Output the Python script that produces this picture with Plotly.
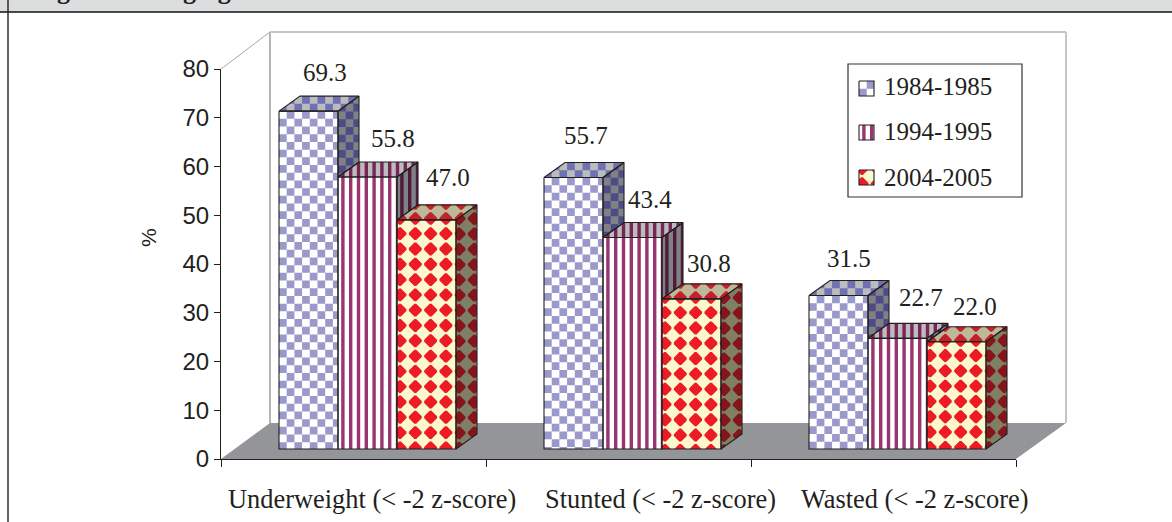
import plotly.graph_objects as go

# Chart data
categories = ["Underweight (< -2 z-score)", "Stunted (< -2 z-score)", "Wasted (< -2 z-score)"]
periods = ["1984-1985", "1994-1995", "2004-2005"]
values_1984 = [69.3, 55.7, 31.5]
values_1994 = [55.8, 43.4, 22.7]
values_2004 = [47.0, 30.8, 22.0]
y_ticks = [0, 10, 20, 30, 40, 50, 60, 70, 80]

# Page geometry: plot rectangle in pixels, and scale of each axis
W, H = 1172, 522
LEFT, RIGHT, TOP, BOTTOM = 221, 1016, 69, 459
X_SCALE = (RIGHT - LEFT) / 3
Y_SCALE = (BOTTOM - TOP) / 80
WALL_DX, WALL_DY = 49, 36
BAR_DX, BAR_DY = 21, 15
BAR_BASE = 10 / Y_SCALE
BAR_WIDTH = 59 / X_SCALE
GROUP_START = 58 / X_SCALE
INK = "#231F20"

def dx(px):
    return (px - LEFT) / X_SCALE

def dy(py):
    return (BOTTOM - py) / Y_SCALE

def pap_x(px):
    return (px - LEFT) / (RIGHT - LEFT)

def pap_y(py):
    return (BOTTOM - py) / (BOTTOM - TOP)

# Fill styles: front, top and side colours as (light, dark)
STYLES = [
    {"kind": "check", "front": ("#FFFFFF", "#9999CC"), "top": ("#BBBCBE", "#7070B4"), "side": ("#808184", "#4C4C88")},
    {"kind": "stripe", "front": ("#FFFFFF", "#993670"), "top": ("#BBBCBE", "#7A2456"), "side": ("#808184", "#4E1C3A")},
    {"kind": "diamond", "front": ("#FBF8CE", "#ED1C24"), "top": ("#BDB998", "#C4222A"), "side": ("#7F7F66", "#85151A")},
]

def clip_convex(poly, hull):
    """Sutherland-Hodgman clip of a polygon to a convex hull."""
    n = len(hull)
    area = sum(hull[i][0] * hull[(i + 1) % n][1] - hull[(i + 1) % n][0] * hull[i][1] for i in range(n))
    sign = 1 if area > 0 else -1
    for i in range(n):
        ax, ay = hull[i]
        bx, by = hull[(i + 1) % n]
        def inside(p):
            return sign * ((bx - ax) * (p[1] - ay) - (by - ay) * (p[0] - ax))
        out = []
        for k, p in enumerate(poly):
            q = poly[(k + 1) % len(poly)]
            a, b = inside(p), inside(q)
            if a >= 0:
                out.append(p)
            if a * b < 0:
                t = a / (a - b)
                out.append((p[0] + t * (q[0] - p[0]), p[1] + t * (q[1] - p[1])))
        poly = out
        if not poly:
            break
    return poly

def texture_cells(kind, x0, y0, w, h):
    """Dark cells of a screen-aligned fill covering a pixel box."""
    cells = []
    if kind == "check":
        a = 7.7
        for i in range(int(w / a) + 2):
            for j in range(int(h / a) + 2):
                if (i + j) % 2 == 1:
                    x, y = x0 + i * a, y0 + j * a
                    cells.append([(x, y), (x + a, y), (x + a, y + a), (x, y + a)])
    elif kind == "stripe":
        p, sw = 7.8, 3.4
        for i in range(int(w / p) + 2):
            x = x0 + i * p + 3.2
            cells.append([(x, y0), (x + sw, y0), (x + sw, y0 + h), (x, y0 + h)])
    else:
        p = 15.3
        r, c = p * 0.42, p * 0.06
        for i in range(-1, int(w / p) + 3):
            for j in range(-1, int(h / p) + 3):
                x, y = x0 + i * p + 3.0, y0 + j * p - 1.5
                cells.append([(x - r, y - c), (x - c, y - r), (x + c, y - r), (x + r, y - c),
                              (x + r, y + c), (x + c, y + r), (x - c, y + r), (x - r, y + c)])
    return cells

background_layers = {}
texture_layers = {}

def add_poly(store, colour, pts):
    store.setdefault(colour, []).append(pts)

def add_face(kind, colours, hull, background=True):
    """Fill a convex pixel polygon with a screen-aligned texture."""
    if background:
        add_poly(background_layers, colours[0], [(dx(x), dy(y)) for x, y in hull])
    xs = [p[0] for p in hull]
    ys = [p[1] for p in hull]
    for cell in texture_cells(kind, min(xs), min(ys), max(xs) - min(xs), max(ys) - min(ys)):
        c = clip_convex(cell, hull)
        if len(c) >= 3:
            add_poly(texture_layers, colours[1], [(dx(x), dy(y)) for x, y in c])

series = [values_1984, values_1994, values_2004]
outline_x, outline_y = [], []
bar_traces = []

def trace_outline(pts):
    for x, y in pts + pts[:1]:
        outline_x.append(dx(x))
        outline_y.append(dy(y))
    outline_x.append(None)
    outline_y.append(None)

for s, vals in enumerate(series):
    style = STYLES[s]
    centers = []
    for g, v in enumerate(vals):
        left = g + GROUP_START + s * BAR_WIDTH
        centers.append(left + BAR_WIDTH / 2)
        top = BAR_BASE + v
        next_top = BAR_BASE + series[s + 1][g] if s < 2 else BAR_BASE
        px_l = LEFT + left * X_SCALE
        px_r = px_l + BAR_WIDTH * X_SCALE
        py_t = BOTTOM - top * Y_SCALE
        py_b = BOTTOM - BAR_BASE * Y_SCALE
        py_n = BOTTOM - next_top * Y_SCALE
        front = [(px_l, py_t), (px_r, py_t), (px_r, py_b), (px_l, py_b)]
        roof = [(px_l, py_t), (px_l + BAR_DX, py_t - BAR_DY), (px_r + BAR_DX, py_t - BAR_DY), (px_r, py_t)]
        # The side face stops where the neighbouring bar hides it
        side = [(px_r, py_t), (px_r + BAR_DX, py_t - BAR_DY), (px_r + BAR_DX, py_n - BAR_DY), (px_r, py_n)]
        add_face(style["kind"], style["front"], front, background=False)
        add_face(style["kind"], style["top"], roof)
        add_face(style["kind"], style["side"], side)
        trace_outline(front)
        trace_outline(roof)
        trace_outline(side)
    bar_traces.append(go.Bar(
        x=centers, y=vals, base=BAR_BASE, width=BAR_WIDTH, name=periods[s],
        marker=dict(color=style["front"][0], line=dict(width=0)),
        hoverinfo="skip", showlegend=False,
    ))

# Legend swatches share the bar fills
SWATCH_X, SWATCH_SIZE = 859, 15
SWATCH_Y = [81, 125, 170]
LEGEND_TEXT_Y = [87, 131, 177]
for s, period in enumerate(periods):
    style = STYLES[s]
    sy = SWATCH_Y[s]
    box = [(SWATCH_X, sy), (SWATCH_X + SWATCH_SIZE, sy),
           (SWATCH_X + SWATCH_SIZE, sy + SWATCH_SIZE), (SWATCH_X, sy + SWATCH_SIZE)]
    add_face(style["kind"], style["front"], box)
    trace_outline(box)

fig = go.Figure(bar_traces)

for store in (background_layers, texture_layers):
    for colour, polys in store.items():
        xs, ys = [], []
        for pts in polys:
            for x, y in pts + pts[:1]:
                xs.append(x)
                ys.append(y)
            xs.append(None)
            ys.append(None)
        fig.add_trace(go.Scatter(
            x=xs, y=ys, mode="lines", fill="toself", fillcolor=colour,
            line=dict(width=0, color=colour), hoverinfo="skip", showlegend=False,
        ))

fig.add_trace(go.Scatter(
    x=outline_x, y=outline_y, mode="lines", line=dict(color=INK, width=1.1),
    hoverinfo="skip", showlegend=False,
))

def paper_path(points):
    return "M " + " L ".join(f"{pap_x(x):.5f},{pap_y(y):.5f}" for x, y in points) + " Z"

def paper_line(x0, y0, x1, y1, colour, width):
    return dict(type="line", xref="paper", yref="paper", layer="below",
                x0=pap_x(x0), y0=pap_y(y0), x1=pap_x(x1), y1=pap_y(y1),
                line=dict(color=colour, width=width))

BACK_L, BACK_R = LEFT + WALL_DX, RIGHT + WALL_DX + 1
BACK_B, BACK_T = BOTTOM - WALL_DY, TOP - WALL_DY - 1

shapes = [
    # Heading band and page rule
    dict(type="rect", xref="paper", yref="paper", layer="below",
         x0=pap_x(0), x1=pap_x(W), y0=pap_y(0), y1=pap_y(12),
         fillcolor="#DCDDDE", line=dict(width=0)),
    paper_line(0, 12, W, 12, "#111111", 1.6),
    paper_line(8, 0, 8, H, "#222222", 1.4),
    # Floor
    dict(type="path", xref="paper", yref="paper", layer="below",
         path=paper_path([(LEFT, BOTTOM), (BACK_L, BACK_B), (BACK_R, BACK_B), (RIGHT, BOTTOM)]),
         fillcolor="#939598", line=dict(width=0)),
    # Back wall
    paper_line(BACK_L, BACK_T, BACK_L, BACK_B, "#B5B6B8", 2),
    paper_line(BACK_L, BACK_T, BACK_R, BACK_T, "#C4C5C7", 2),
    paper_line(BACK_R, BACK_T, BACK_R, BACK_B, "#C4C5C7", 2),
    paper_line(LEFT, TOP, BACK_L, BACK_T, "#A6A8AB", 1),
    # Legend frame
    dict(type="rect", xref="paper", yref="paper", layer="below",
         x0=pap_x(848), x1=pap_x(1022), y0=pap_y(64), y1=pap_y(197),
         fillcolor="#FFFFFF", line=dict(color="#333333", width=1.2)),
]

SERIF = "Liberation Serif"
SANS = "Liberation Sans"
annotations = []

# Value labels: horizontal and vertical nudge per bar, in pixels
LABEL_DX = [[16.5, 12.5, 10], [25, 17.5, 23.5], [21.5, 17, 18]]
LABEL_DY = [[39, 42, 37], [38, 38, 41], [42, 35, 35]]
for s, vals in enumerate(series):
    for g, v in enumerate(vals):
        annotations.append(dict(
            x=g + GROUP_START + (s + 0.5) * BAR_WIDTH, y=BAR_BASE + v, xref="x", yref="y",
            text=f"{v:.1f}", showarrow=False, xanchor="center", yanchor="middle",
            xshift=LABEL_DX[s][g], yshift=LABEL_DY[s][g],
            font=dict(family=SERIF, size=25, color=INK),
        ))

CATEGORY_CENTERS = [372, 660, 914]
for label, cx in zip(categories, CATEGORY_CENTERS):
    annotations.append(dict(
        x=pap_x(cx), y=pap_y(499), xref="paper", yref="paper", text=label, showarrow=False,
        xanchor="center", yanchor="middle", font=dict(family=SERIF, size=26.4, color=INK),
    ))

for period, ty in zip(periods, LEGEND_TEXT_Y):
    annotations.append(dict(
        x=pap_x(882), y=pap_y(ty), xref="paper", yref="paper", text=period, showarrow=False,
        xanchor="left", yanchor="middle", font=dict(family=SERIF, size=25, color=INK),
    ))

annotations.append(dict(
    x=pap_x(148), y=pap_y(238), xref="paper", yref="paper", text="%", showarrow=False,
    textangle=-90, xanchor="center", yanchor="middle", font=dict(family=SANS, size=21, color=INK),
))
annotations.append(dict(
    x=pap_x(32), y=pap_y(-10), xref="paper", yref="paper",
    text="<b>Figure: Changing trend in nutritional status</b>", showarrow=False,
    xanchor="left", yanchor="middle", font=dict(family=SERIF, size=26, color=INK),
))

fig.update_layout(
    width=W, height=H, autosize=False, bargap=0, barmode="overlay",
    margin=dict(l=LEFT, r=W - RIGHT, t=TOP, b=H - BOTTOM),
    paper_bgcolor="white", plot_bgcolor="rgba(0,0,0,0)",
    shapes=shapes, annotations=annotations, showlegend=False,
    xaxis=dict(
        range=[0, 3], showgrid=False, zeroline=False, showline=True, linecolor=INK, linewidth=1.2,
        tickvals=[0, 1, 2, 3], ticktext=["", "", "", ""], ticks="outside", ticklen=7, tickwidth=1, tickcolor=INK,
    ),
    yaxis=dict(
        range=[0, 80], showgrid=False, zeroline=False, showline=True, linecolor=INK, linewidth=1.2,
        tickvals=y_ticks, ticks="outside", ticklen=6, tickwidth=1, tickcolor=INK,
        tickfont=dict(family=SANS, size=24, color=INK),
    ),
)

fig.write_html("out.html")
